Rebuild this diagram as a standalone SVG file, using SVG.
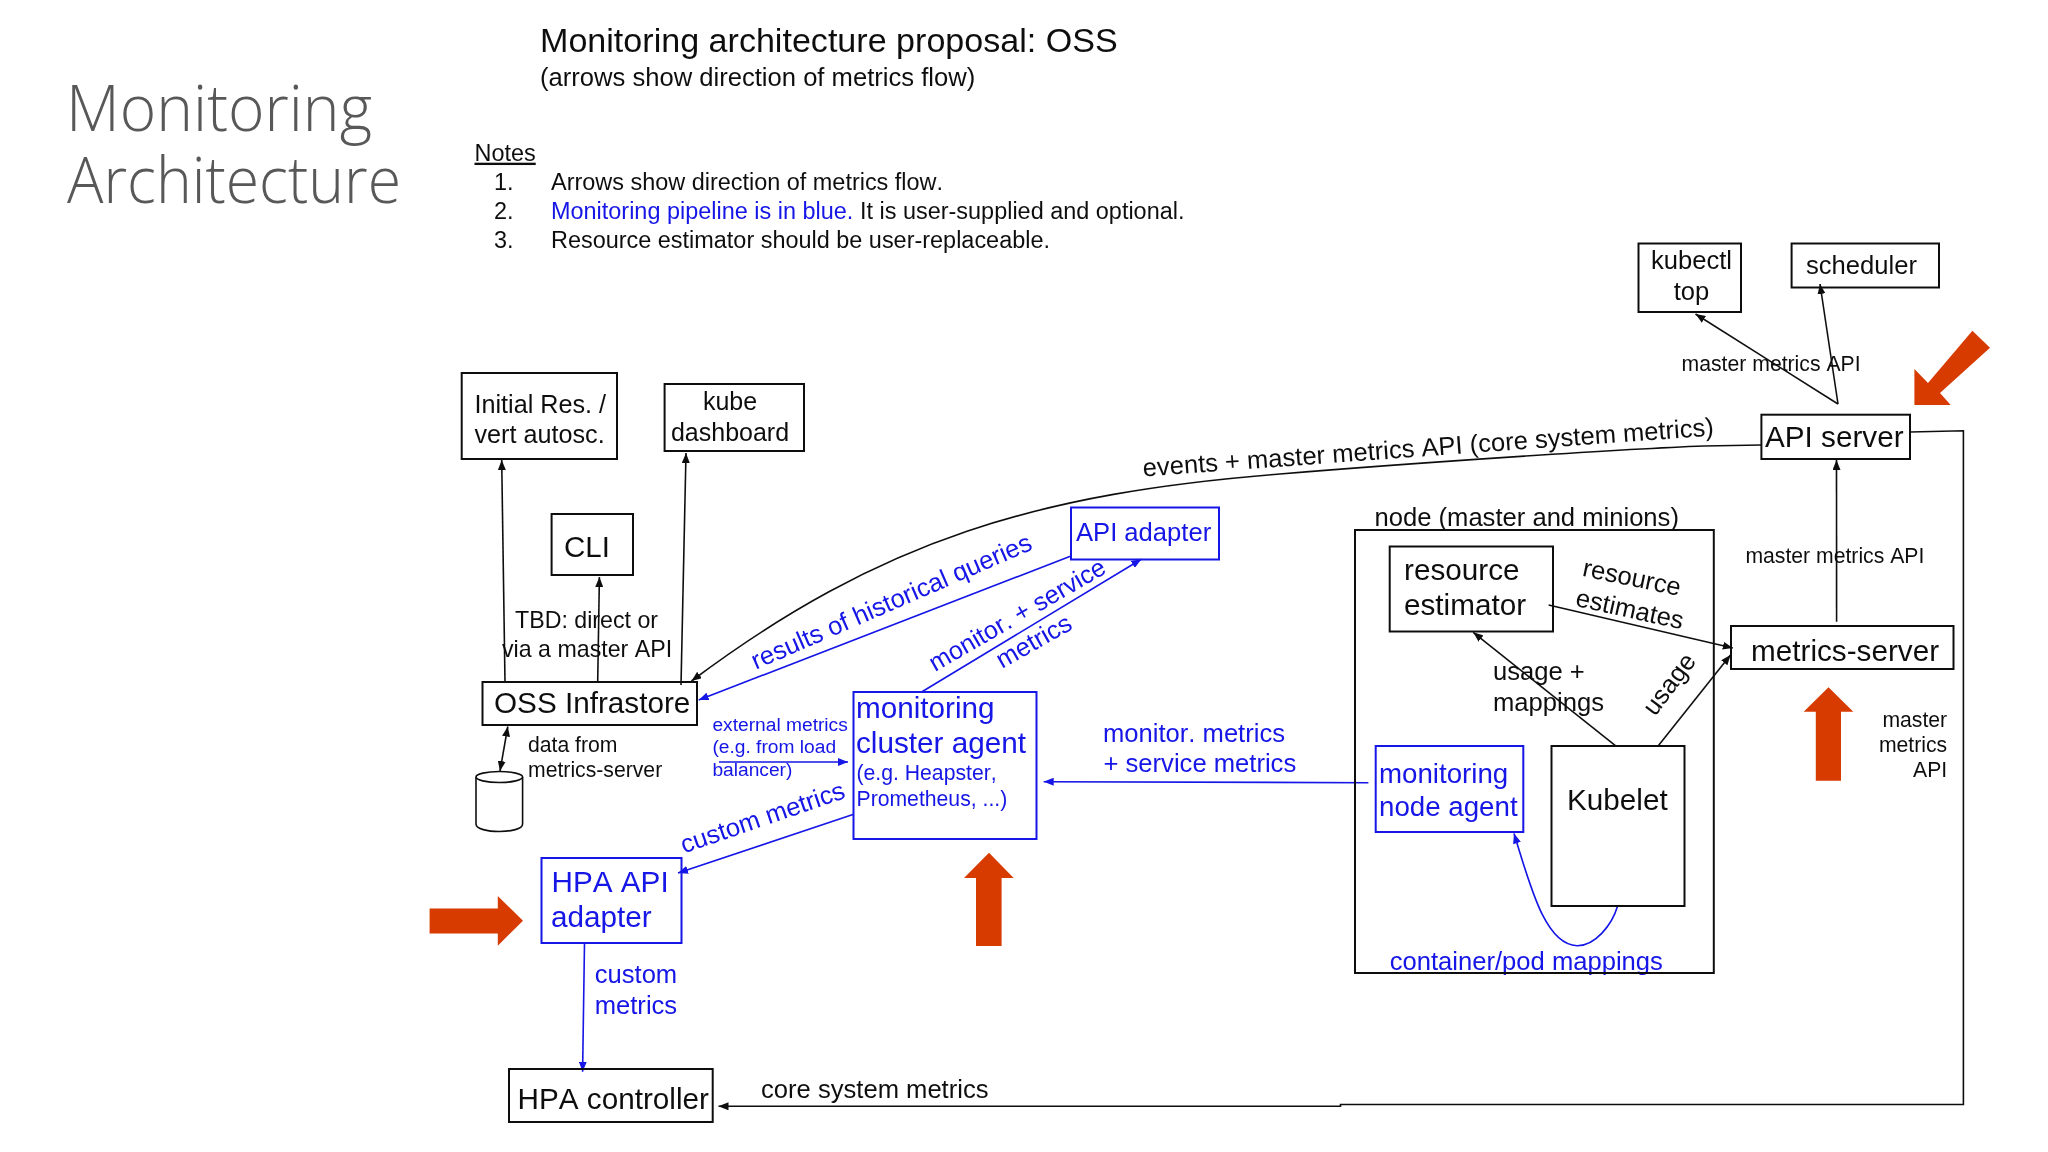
<svg xmlns="http://www.w3.org/2000/svg" width="2048" height="1152" viewBox="0 0 2048 1152">
<style>
text{font-family:"Liberation Sans",Arial,sans-serif;fill:#111;font-kerning:none}
.b{fill:#1414e6}
.s21{font-size:21.2px}.s19{font-size:19.2px}.s23{font-size:23.2px}.n{font-size:23.45px}.s25{font-size:25.6px}.s27{font-size:27.7px}.s29{font-size:29.7px}
.title{font-family:"Open Sans","Noto Sans",sans-serif;font-weight:300;font-size:65px;fill:#595959}
.box{fill:none;stroke:#111;stroke-width:2}
.bbox{fill:none;stroke:#1414e6;stroke-width:2}
.k{fill:none;stroke:#111;stroke-width:1.6}
.u{fill:none;stroke:#1414e6;stroke-width:1.6}
.call{fill:#d83b01}
</style>
<defs>
<filter id="soft" x="0" y="0" width="2048" height="1152" filterUnits="userSpaceOnUse"><feGaussianBlur stdDeviation="0.45"/></filter>
<marker id="ak" markerUnits="userSpaceOnUse" markerWidth="10" markerHeight="8" refX="10" refY="4" orient="auto-start-reverse"><path d="M0 0L10 4L0 8z" fill="#111"/></marker>
<marker id="au" markerUnits="userSpaceOnUse" markerWidth="10" markerHeight="8" refX="10" refY="4" orient="auto-start-reverse"><path d="M0 0L10 4L0 8z" fill="#1414e6"/></marker>
</defs>
<g id="diagram" filter="url(#soft)">
<rect x="0" y="0" width="2048" height="1152" fill="#fff"/>
<g id="heading">
<text class="title" x="66" y="130.7" textLength="306" lengthAdjust="spacingAndGlyphs">Monitoring</text>
<text class="title" x="67" y="202.7" textLength="334" lengthAdjust="spacingAndGlyphs">Architecture</text>
<text x="540" y="52" font-size="34.1">Monitoring architecture proposal: OSS</text>
<text x="540" y="85.6" font-size="25.6">(arrows show direction of metrics flow)</text>
<text class="n" x="474.5" y="160.7" text-decoration="underline">Notes</text>
<text class="n" x="494" y="190">1.</text>
<text class="n" x="551" y="190">Arrows show direction of metrics flow.</text>
<text class="n" x="494" y="219">2.</text>
<text class="n b" x="551" y="219">Monitoring pipeline is in blue.</text>
<text class="n" x="860" y="219">It is user-supplied and optional.</text>
<text class="n" x="494" y="247.7">3.</text>
<text class="n" x="551" y="247.7">Resource estimator should be user-replaceable.</text>
</g>

<g id="connectors">
<path class="k" marker-end="url(#ak)" d="M505 682L501.7 460"/>
<path class="k" marker-end="url(#ak)" d="M681 685L686 453"/>
<path class="k" marker-end="url(#ak)" d="M597.7 682L599.4 577"/>
<path class="k" marker-start="url(#ak)" marker-end="url(#ak)" d="M507.8 726.5L500 771"/>
<path class="k" marker-end="url(#ak)" d="M1761 445L1704 446C1620 449 1400 464 1280 474C1040 493.2 881.5 538.5 691.5 681"/>
<path class="k" marker-end="url(#ak)" d="M1838 404L1695.5 314"/>
<path class="k" marker-end="url(#ak)" d="M1838 404L1820 284"/>
<path class="k" marker-end="url(#ak)" d="M1836.6 621.7L1836.5 460"/>
<path class="k" marker-end="url(#ak)" d="M1548.6 605L1732.8 648"/>
<path class="k" marker-end="url(#ak)" d="M1615.4 745.7L1473.2 632.3"/>
<path class="k" marker-end="url(#ak)" d="M1658.3 745.7L1730.5 655"/>
<path class="k" marker-end="url(#ak)" d="M1910 432L1963.4 430.7V1104.5H1340.5V1106.3H718.5"/>
<path class="u" marker-end="url(#au)" d="M1071 556L698.7 700"/>
<path class="u" marker-end="url(#au)" d="M922 691.7L1141.3 559.3"/>
<path class="u" marker-end="url(#au)" d="M719 762H848"/>
<path class="u" marker-end="url(#au)" d="M853.7 814.3L678 873"/>
<path class="u" marker-end="url(#au)" d="M584.5 943L582.6 1071.7"/>
<path class="u" marker-end="url(#au)" d="M1368.4 782.7L1043.7 781.7"/>
<path class="u" marker-end="url(#au)" d="M1617.6 906C1612 925 1595 946 1577 945.7C1545 945 1530 885 1514 833.5"/>
<text class="s23" x="515" y="628">TBD: direct or</text>
<text class="s23" x="502" y="656.8">via a master API</text>
<text class="s21" x="528" y="752">data from</text>
<text class="s21" x="528" y="777.4">metrics-server</text>
<text class="s25" transform="translate(1143.3 476.4) rotate(-4.1)">events + master metrics API (core system metrics)</text>
<text class="s21" x="1681.6" y="371.4">master metrics API</text>
<text class="s21" x="1745.4" y="563.4">master metrics API</text>
<text class="s21" text-anchor="end" x="1947.2" y="726.6">master</text>
<text class="s21" text-anchor="end" x="1947.2" y="752.2">metrics</text>
<text class="s21" text-anchor="end" x="1947.2" y="777.2">API</text>
<text class="s25" transform="translate(1581.4 575.8) rotate(11.6)">resource</text>
<text class="s25" transform="translate(1574.6 605.8) rotate(12.4)">estimates</text>
<text class="s25" x="1493" y="680.2">usage +</text>
<text class="s25" x="1493" y="710.8">mappings</text>
<text class="s25" transform="translate(1655 717) rotate(-53)">usage</text>
<text class="s25" x="761" y="1097.6">core system metrics</text>
<text class="s25 b" transform="translate(755.8 669.7) rotate(-23.5)">results of historical queries</text>
<text class="b" font-size="25.2" transform="translate(935 672) rotate(-30)">monitor. + service</text>
<text class="s25 b" transform="translate(1002 669) rotate(-29.5)">metrics</text>
<text class="s25 b" transform="translate(684 853.5) rotate(-19)">custom metrics</text>
<text class="s19 b" x="712.4" y="731">external metrics</text>
<text class="s19 b" x="712.4" y="753">(e.g. from load</text>
<text class="s19 b" x="712.4" y="775.7">balancer)</text>
<text class="s25 b" x="1103" y="741.5">monitor. metrics</text>
<text class="s25 b" x="1103.5" y="771.5">+ service metrics</text>
<text class="s25 b" x="594.7" y="983.4">custom</text>
<text class="s25 b" x="594.7" y="1014">metrics</text>
<text class="s25 b" x="1389.7" y="970.2">container/pod mappings</text>
</g>

<g id="initial-res"><rect class="box" x="461.7" y="373" width="155.3" height="86"/><text class="s25" style="font-size:25.2px" x="474.5" y="412.7">Initial Res. /</text><text class="s25" style="font-size:25.2px" x="474.5" y="442.7">vert autosc.</text></g>
<g id="kube-dashboard"><rect class="box" x="664.6" y="384" width="139.4" height="67"/><text class="s25" style="font-size:25px" text-anchor="middle" x="730" y="410">kube</text><text class="s25" style="font-size:25px" text-anchor="middle" x="730" y="440.7">dashboard</text></g>
<g id="cli"><rect class="box" x="551.6" y="514" width="81.4" height="61"/><text font-size="29.5" x="564" y="557">CLI</text></g>
<g id="oss-infrastore"><rect class="box" x="482.5" y="682" width="214.5" height="43"/><text class="s29" x="494" y="712.5">OSS Infrastore</text></g>
<g id="datastore"><path class="k" d="M476 777V824C476 834 522.6 834 522.6 824V777"/><ellipse class="k" cx="499.3" cy="777" rx="23.3" ry="5.5"/></g>
<g id="api-adapter"><rect class="bbox" x="1071" y="507.5" width="148" height="52"/><text class="s25 b" x="1076" y="541">API adapter</text></g>
<g id="monitoring-cluster-agent"><rect class="bbox" x="853.5" y="692" width="183" height="147"/><text class="s29 b" x="856" y="717.5">monitoring</text><text class="s29 b" x="856" y="753">cluster agent</text><text class="s21 b" x="856.5" y="779.8">(e.g. Heapster,</text><text class="s21 b" x="856.5" y="805.5">Prometheus, ...)</text></g>
<g id="hpa-api-adapter"><rect class="bbox" x="541.5" y="858" width="140" height="85"/><text class="s29 b" x="551.5" y="891.7">HPA API</text><text class="s29 b" x="551" y="926.7">adapter</text></g>
<g id="hpa-controller"><rect class="box" x="509" y="1069" width="203.7" height="53"/><text class="s29" x="517.5" y="1109.3">HPA controller</text></g>
<g id="node"><rect class="box" x="1355" y="530" width="358.8" height="443"/><text class="s25" x="1374.5" y="526">node (master and minions)</text></g>
<g id="resource-estimator"><rect class="box" x="1389.7" y="546.5" width="163.3" height="85"/><text class="s29" x="1404" y="580">resource</text><text class="s29" x="1404" y="615">estimator</text></g>
<g id="monitoring-node-agent"><rect class="bbox" x="1375.7" y="746" width="147.6" height="86"/><text class="s27 b" x="1379" y="783">monitoring</text><text class="s27 b" x="1379" y="815.8">node agent</text></g>
<g id="kubelet"><rect class="box" x="1551.5" y="746" width="133" height="160"/><text class="s29" x="1567" y="810">Kubelet</text></g>
<g id="metrics-server"><rect class="box" x="1731" y="626" width="222.5" height="43"/><text class="s29" x="1751" y="661">metrics-server</text></g>
<g id="api-server"><rect class="box" x="1761.4" y="414.7" width="148.6" height="44.3"/><text class="s29" x="1765" y="447">API server</text></g>
<g id="kubectl-top"><rect class="box" x="1638.5" y="243.5" width="102.5" height="68.5"/><text class="s25" text-anchor="middle" x="1691.5" y="269.4">kubectl</text><text class="s25" text-anchor="middle" x="1691.5" y="299.6">top</text></g>
<g id="scheduler"><rect class="box" x="1791.6" y="243.5" width="147.4" height="44"/><text class="s25" x="1806" y="273.6">scheduler</text></g>

<g id="callouts">
<polygon class="call" points="429.6,908.5 497.8,908.5 497.8,896 523,920.7 497.8,945.7 497.8,933.5 429.6,933.5"/>
<polygon class="call" points="976,946 976,878 964,878 989,852.7 1013.7,878 1001.6,878 1001.6,946"/>
<polygon class="call" points="1815.8,780.7 1815.8,711.7 1803.7,711.7 1828.5,687.3 1853.3,711.7 1841,711.7 1841,780.7"/>
<polygon class="call" points="1914.4,405 1914.4,369 1928,383 1972.4,330.7 1990,347.7 1940,393 1950.7,405"/>
</g>
</g>
</svg>
